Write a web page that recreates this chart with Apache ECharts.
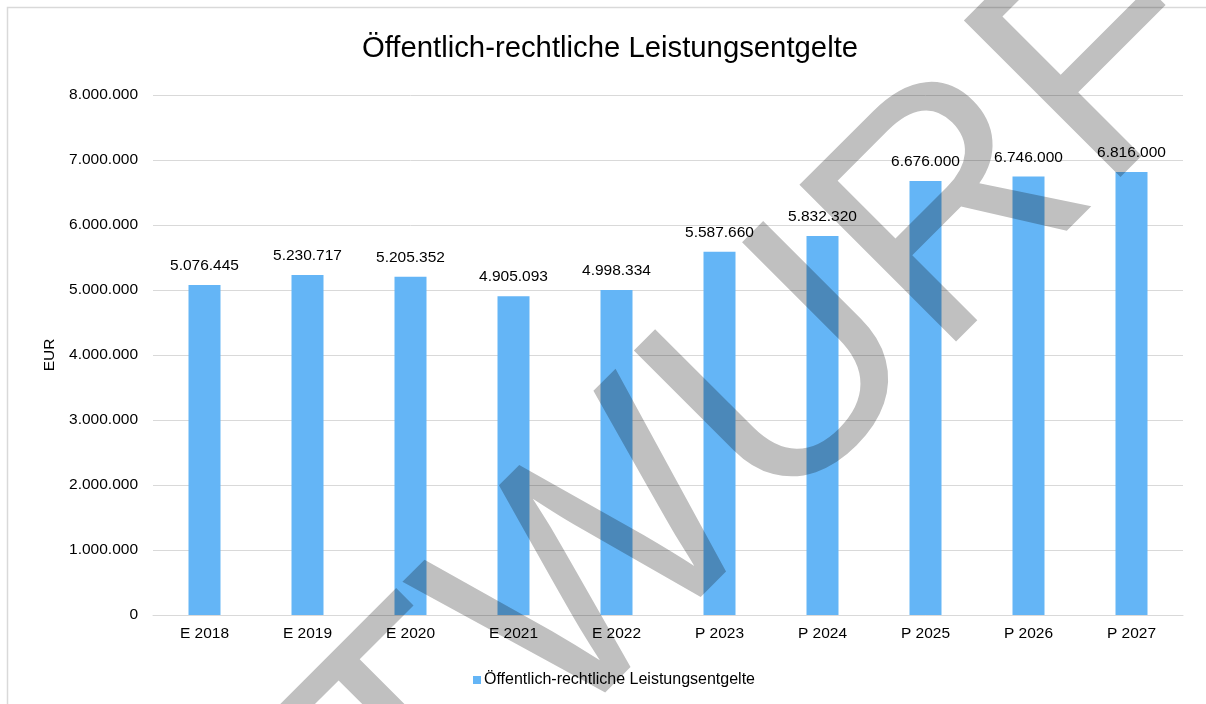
<!DOCTYPE html>
<html>
<head>
<meta charset="utf-8">
<script src="https://cdn.jsdelivr.net/npm/echarts@6/dist/echarts.min.js"></script>
<style>
html,body{margin:0;padding:0;background:#fff;}
#wrap{position:relative;width:1206px;height:704px;}
#c,#w{position:absolute;left:0;top:0;width:1206px;height:704px;}
#w{mix-blend-mode:multiply;pointer-events:none;}
</style>
</head>
<body>
<div id="wrap"><div id="c"></div><div id="w"></div></div>
<script>
const title = 'Öffentlich-rechtliche Leistungsentgelte';
const seriesName = 'Öffentlich-rechtliche Leistungsentgelte';
const categories = ['E 2018','E 2019','E 2020','E 2021','E 2022','P 2023','P 2024','P 2025','P 2026','P 2027'];
const values = [5076445, 5230717, 5205352, 4905093, 4998334, 5587660, 5832320, 6676000, 6746000, 6816000];
const yAxisName = 'EUR';
const watermark = 'ENTWURF';

function fmt(v){
  const s = String(Math.round(v));
  return s.replace(/\B(?=(\d{3})+(?!\d))/g, '.');
}

const FONT = '"Liberation Sans", Arial, sans-serif';
const FS = 15.5;
const chart = echarts.init(document.getElementById('c'), null, {renderer:'canvas'});
chart.setOption({
  animation:false,
  backgroundColor:'#fff',
  textStyle:{fontFamily:FONT},
  title:{
    text:title, left:605, top:29, textAlign:'center',
    textStyle:{fontFamily:FONT, fontSize:29.3, fontWeight:'normal', color:'#000'}
  },
  legend:{
    data:[seriesName], left:473, top:672, padding:0, itemWidth:8, itemHeight:8, itemGap:4,
    icon:'rect',
    textStyle:{fontFamily:FONT, fontSize:16, color:'#000', padding:[0,0,0,-2]}
  },
  grid:{left:153, right:23, top:95, bottom:89, containLabel:false},
  xAxis:{
    type:'category', data:categories,
    axisLine:{show:true, lineStyle:{color:'#D9D9D9', width:1}},
    axisTick:{show:false},
    axisLabel:{color:'#000', fontSize:FS, margin:11, fontFamily:FONT}
  },
  yAxis:{
    type:'value', min:0, max:8000000, interval:1000000,
    name:yAxisName, nameLocation:'middle', nameGap:93, nameRotate:90,
    nameTextStyle:{color:'#000', fontSize:FS, fontFamily:FONT},
    axisLine:{show:false}, axisTick:{show:false},
    splitLine:{lineStyle:{color:'#D9D9D9', width:1}},
    axisLabel:{color:'#000', fontSize:FS, margin:15, fontFamily:FONT, formatter:fmt}
  },
  series:[{
    name:seriesName, type:'bar', data:values, barWidth:32,
    itemStyle:{color:'#64B5F6'},
    label:{show:true, position:'top', distance:11, color:'#000', fontSize:FS, fontFamily:FONT,
      formatter:p=>fmt(p.value)}
  }],
  graphic:[
    {type:'rect', z:-1, shape:{x:7.5, y:7.5, width:1220, height:720},
      style:{fill:'none', stroke:'#D9D9D9', lineWidth:1.5}}
  ]
});

const wm = echarts.init(document.getElementById('w'), null, {renderer:'canvas'});
wm.setOption({
  animation:false,
  backgroundColor:'transparent',
  graphic:[
    {type:'text', x:609, y:563, rotation:Math.PI/4,
      style:{text:watermark, font:'322px ' + FONT, fill:'#C0C0C0',
        align:'center', verticalAlign:'middle'}}
  ]
});
</script>
</body>
</html>
